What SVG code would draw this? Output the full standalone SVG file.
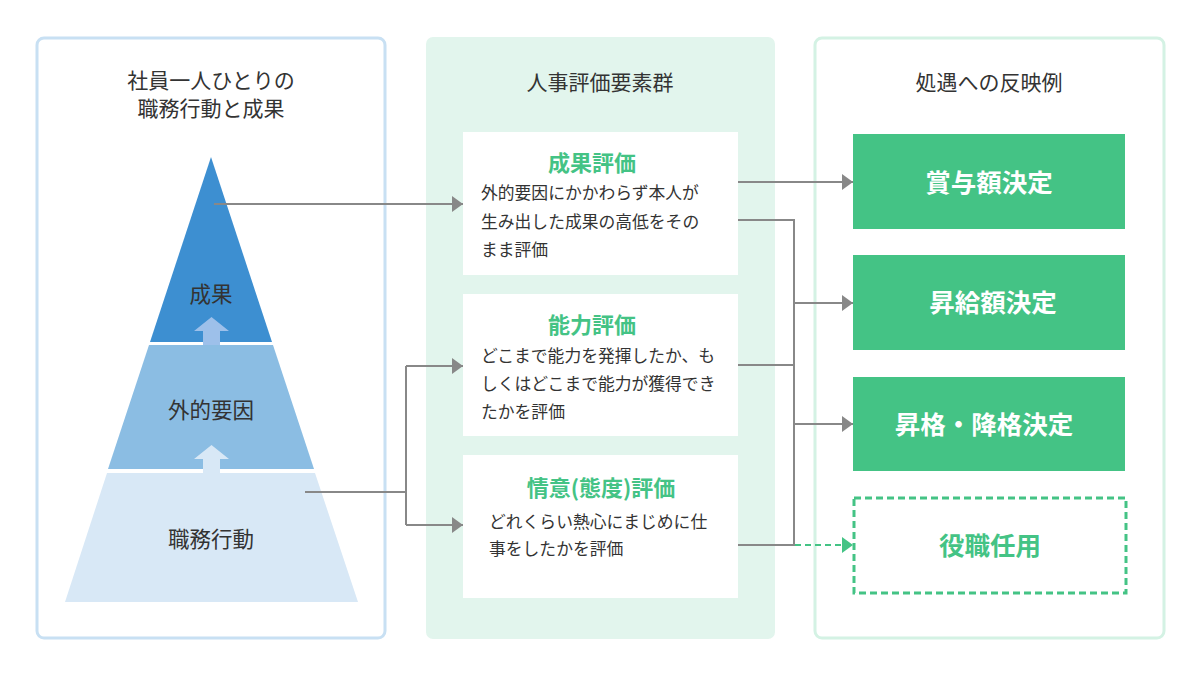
<svg xmlns="http://www.w3.org/2000/svg" width="1200" height="675" viewBox="0 0 1200 675">
<defs>
<marker id="ag" markerWidth="12" markerHeight="16" refX="11" refY="8" orient="auto" markerUnits="userSpaceOnUse"><path d="M0,0 L11,8 L0,16 Z" fill="#888888"/></marker>
<marker id="agr" markerWidth="12" markerHeight="16" refX="11" refY="8" orient="auto" markerUnits="userSpaceOnUse"><path d="M0,0 L11,8 L0,16 Z" fill="#44c385"/></marker>
<style>
text{font-family:"Noto Sans CJK JP","Noto Sans",sans-serif;}
.ttl{font-size:21px;fill:#333;text-anchor:middle;}
.lvl{font-size:21.5px;fill:#333;text-anchor:middle;}
.bt{font-size:22px;font-weight:bold;fill:#44c385;text-anchor:middle;}
.bd{font-size:16.8px;fill:#333;}
.wt{font-size:25.5px;font-weight:bold;fill:#fff;text-anchor:middle;}
.gt{font-size:25.5px;font-weight:bold;fill:#44c385;text-anchor:middle;}
.box{fill:#fff;}
.gbox{fill:#44c385;}
.cn{fill:none;stroke:#888888;stroke-width:2;}
</style>
</defs>
<rect width="1200" height="675" fill="#fff"/>

<g id="panel-left">
<rect x="37" y="38" width="348" height="600" rx="7" fill="#fff" stroke="#c8e0f3" stroke-width="3"/>
<text class="ttl" x="211" y="88">社員一人ひとりの</text>
<text class="ttl" x="211" y="116">職務行動と成果</text>
</g>
<g id="panel-mid">
<rect x="426" y="37" width="349" height="602" rx="7" fill="#e2f5ed"/>
<text class="ttl" x="600" y="90">人事評価要素群</text>
</g>
<g id="panel-right">
<rect x="815" y="38" width="349" height="600" rx="7" fill="#fff" stroke="#d4f2e4" stroke-width="3"/>
<text class="ttl" x="989" y="90">処遇への反映例</text>
</g>

<g id="pyramid">
<polygon points="211,157 272,342 150,342" fill="#3d8fd1"/>
<polygon points="149,345 273,345 314,469 108,469" fill="#8bbde3"/>
<polygon points="107,473 315,473 358,602 65,602" fill="#d8e8f6"/>
<polygon points="203,345 203,331 194,331 211.5,317 229,331 220,331 220,345" fill="#9dc0ea"/>
<polygon points="203,473 203,459 194,459 211.5,445 229,459 220,459 220,473" fill="#d8e8f6"/>
<text class="lvl" x="211" y="302">成果</text>
<text class="lvl" x="211" y="418">外的要因</text>
<text class="lvl" x="211" y="547">職務行動</text>
</g>

<g id="eval-result">
<rect class="box" x="463" y="132" width="275" height="143"/>
<text class="bt" x="592" y="171">成果評価</text>
<text class="bd" x="481" y="199">外的要因にかかわらず本人が</text>
<text class="bd" x="481" y="228">生み出した成果の高低をその</text>
<text class="bd" x="481" y="256">まま評価</text>
</g>
<g id="eval-ability">
<rect class="box" x="463" y="294" width="275" height="142"/>
<text class="bt" x="592" y="333">能力評価</text>
<text class="bd" x="481" y="362">どこまで能力を発揮したか、も</text>
<text class="bd" x="481" y="390">しくはどこまで能力が獲得でき</text>
<text class="bd" x="481" y="418">たかを評価</text>
</g>
<g id="eval-attitude">
<rect class="box" x="463" y="455" width="275" height="143"/>
<text class="bt" x="601" y="496">情意(態度)評価</text>
<text class="bd" x="489" y="528">どれくらい熱心にまじめに仕</text>
<text class="bd" x="489" y="555">事をしたかを評価</text>
</g>

<g id="out-bonus">
<rect class="gbox" x="853" y="134" width="272" height="95"/>
<text class="wt" x="989" y="192">賞与額決定</text>
</g>
<g id="out-raise">
<rect class="gbox" x="853" y="255" width="272" height="95"/>
<text class="wt" x="993" y="312">昇給額決定</text>
</g>
<g id="out-grade">
<rect class="gbox" x="853" y="377" width="272" height="94"/>
<text class="wt" x="984" y="434">昇格・降格決定</text>
</g>
<g id="out-post">
<rect x="854" y="498" width="272" height="95" fill="#fff" stroke="#44c385" stroke-width="3" stroke-dasharray="7,4"/>
<text class="gt" x="990" y="555">役職任用</text>
</g>

<g id="connectors">
<path class="cn" d="M214,204 L463,204" marker-end="url(#ag)"/>
<path class="cn" d="M305,492 L406,492"/>
<path class="cn" d="M406,366 L406,525"/>
<path class="cn" d="M406,366 L463,366" marker-end="url(#ag)"/>
<path class="cn" d="M406,525 L463,525" marker-end="url(#ag)"/>
<path class="cn" d="M738,182 L853,182" marker-end="url(#ag)"/>
<path class="cn" d="M738,220 L794,220 L794,545 L738,545"/>
<path class="cn" d="M738,365 L794,365"/>
<path class="cn" d="M794,303 L853,303" marker-end="url(#ag)"/>
<path class="cn" d="M794,424 L853,424" marker-end="url(#ag)"/>
<path d="M795,545 L853,545" fill="none" stroke="#44c385" stroke-width="2" stroke-dasharray="6,4" marker-end="url(#agr)"/>
</g>
</svg>
